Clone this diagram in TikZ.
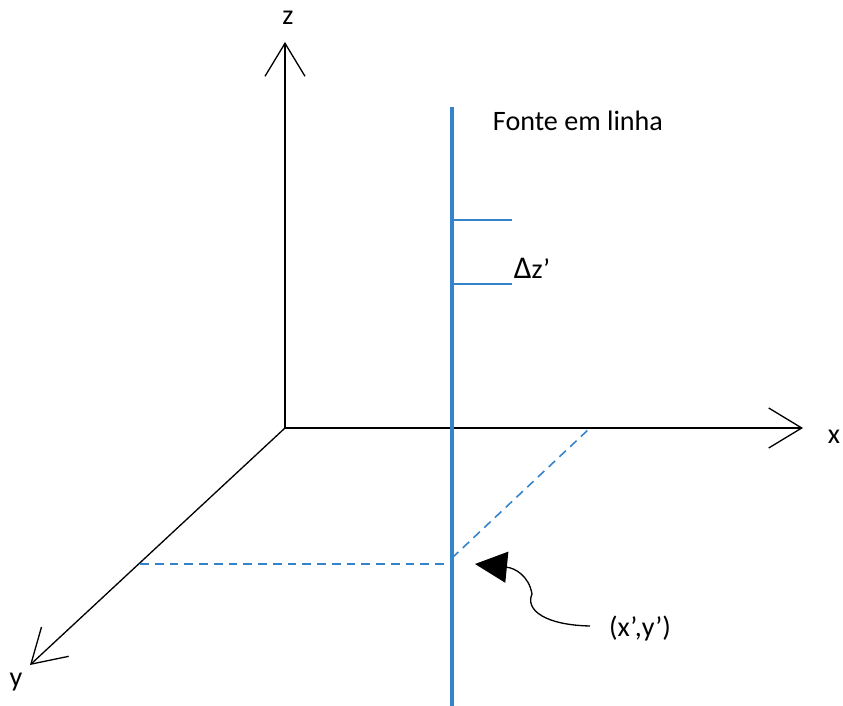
\documentclass[tikz,border=0pt]{standalone}
\usepackage{fontspec}
\setmainfont{Carlito}
\usepackage{tikz}
\usetikzlibrary{arrows.meta, calc}
\definecolor{myblue}{RGB}{52,132,204}
\definecolor{mydark}{RGB}{0,0,0}
\tikzset{
  axis/.style={draw=mydark, line width=0.75pt,
    -{Straight Barb[length=0.66cm, width=0.8cm, line width=0.75pt]}},
  source/.style={draw=myblue, line width=2.8pt},
  tick/.style={draw=myblue, line width=0.9pt},
  proj/.style={draw=myblue, line width=0.9pt, dash pattern=on 5pt off 3.4pt},
  pointer/.style={draw=mydark, line width=0.75pt,
    -{Triangle[length=0.64cm, width=0.62cm]}},
  lbl/.style={font=\fontsize{16}{19}\selectfont, inner sep=1pt}
}
\begin{document}
\begin{tikzpicture}[x=0.02cm, y=-0.02cm]
  \useasboundingbox (0,0) rectangle (843,706);

  % Axes
  \coordinate (O) at (285,428);
  \coordinate (zend) at (285,42);
  \coordinate (xend) at (803,428);
  \coordinate (yend) at (30,665);
  \draw[axis] (O) -- (zend);
  \draw[axis] (O) -- (xend);
  \draw[axis] (O) -- (yend);
  \node[lbl] (zlbl) at (288,18) {z};
  \node[lbl] (xlbl) at (834,437) {x};
  \node[lbl] (ylbl) at (16,682) {y};

  % Line source
  \coordinate (srctop) at (452,107);
  \coordinate (srcbot) at (452,706);
  \draw[source] (srctop) -- (srcbot);
  \node[lbl] (srclbl) at (578,121) {Fonte em linha};

  % Element dz'
  \coordinate (dzA) at (452,220);
  \coordinate (dzAe) at (512,220);
  \coordinate (dzB) at (452,284);
  \coordinate (dzBe) at (512,284);
  \draw[tick] (dzA) -- (dzAe);
  \draw[tick] (dzB) -- (dzBe);
  \node[lbl] (dzlbl) at (532,268) {{\fontsize{18}{19}\selectfont Δ}z’};

  % Projection onto the x-y plane
  \coordinate (px) at (590,428);
  \coordinate (pfoot) at (452,558);
  \coordinate (py) at (140,564);
  \coordinate (pline) at (452,564);
  \draw[proj] (pfoot) -- (px);
  \draw[proj] (py) -- (pline);

  % Point label
  \node[lbl] (ptlbl) at (640,628) {(x’,y’)};
  \coordinate (pttip) at (475,564);
  \draw[pointer] (590,626) .. controls (545,625) and (525,610) .. (532,594)
    .. controls (529,576) and (515,568) .. (pttip);
\end{tikzpicture}
\end{document}
